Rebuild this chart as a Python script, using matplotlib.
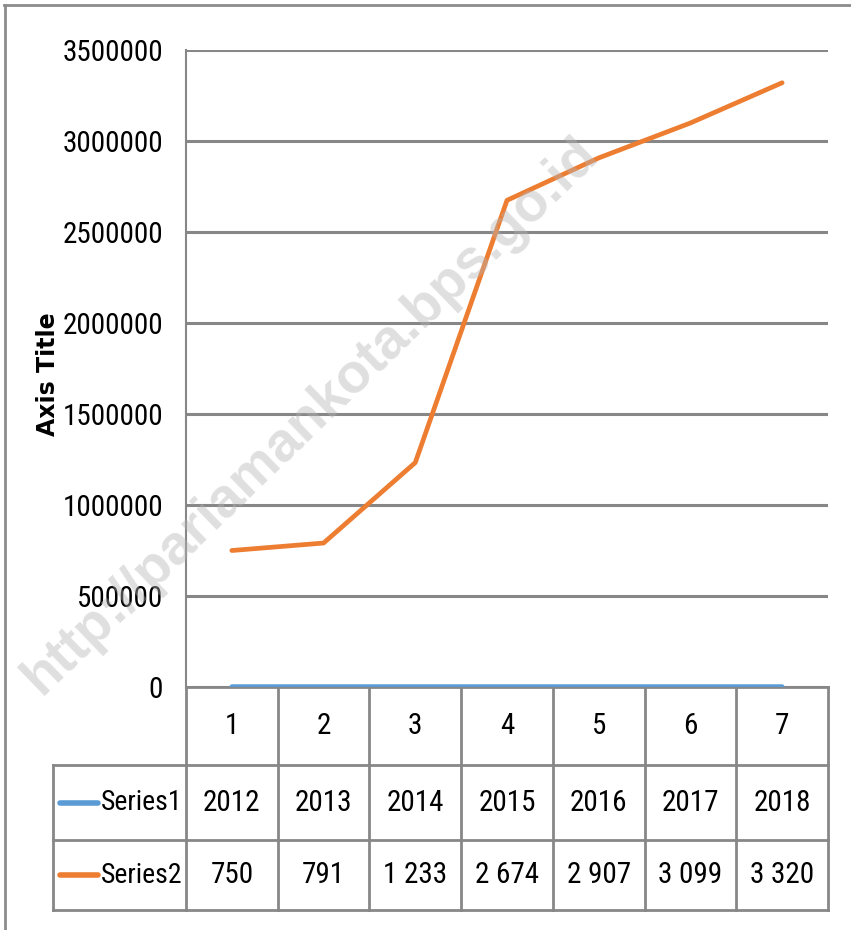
import matplotlib
matplotlib.use("Agg")
import matplotlib.pyplot as plt
from matplotlib import font_manager
from matplotlib.transforms import blended_transform_factory
from matplotlib.lines import Line2D

# ---------------- data ----------------
categories = ["1", "2", "3", "4", "5", "6", "7"]
series1 = [2012, 2013, 2014, 2015, 2016, 2017, 2018]
series2 = [750000, 791000, 1233000, 2674000, 2907000, 3099000, 3320000]
series1_labels = ["2012", "2013", "2014", "2015", "2016", "2017", "2018"]
series2_labels = ["750", "791", "1 233", "2 674", "2 907", "3 099", "3 320"]
series_names = ["Series1", "Series2"]
yticks = [0, 500000, 1000000, 1500000, 2000000, 2500000, 3000000, 3500000]
axis_title = "Axis Title"
watermark = "http://pariamankota.bps.go.id"

# ---------------- fonts ----------------
def pick(cands):
    for c in cands:
        try:
            font_manager.findfont(font_manager.FontProperties(family=c), fallback_to_default=False)
            return c
        except Exception:
            pass
    return "DejaVu Sans"

narrow = pick(["Liberation Sans Narrow", "Roboto Condensed", "Open Sans Condensed", "Liberation Sans"])
boldfam = pick(["DejaVu Sans"])
wmfam = pick(["Liberation Sans", "Arial", "DejaVu Sans"])

C_BLUE = "#5B9BD5"
C_ORANGE = "#ED7D31"
C_GRID = "#878787"
FS = 21

W, H = 851, 930
fig = plt.figure(figsize=(W / 100, H / 100), dpi=100)

# plot area in pixels
L, R, T, B = 186, 828, 50, 687
ax = fig.add_axes([L / W, (H - B) / H, (R - L) / W, (B - T) / H])
ax.set_xlim(0.5, len(categories) + 0.5)
ax.set_ylim(0, 3500000)
xs = list(range(1, len(categories) + 1))

ax.set_yticks(yticks)
ax.set_yticklabels([str(v) for v in yticks], fontsize=FS, family=narrow)
ax.tick_params(axis="y", length=0, pad=16.5)
ax.set_xticks([])
for s in ["top", "right", "bottom"]:
    ax.spines[s].set_visible(False)
ax.spines["left"].set_color(C_GRID)
ax.spines["left"].set_linewidth(1.5)
ax.grid(axis="y", color=C_GRID, linewidth=2.2)
ax.set_axisbelow(True)

ax.plot(xs, series1, color=C_BLUE, linewidth=3.4, solid_capstyle="round", zorder=3)
ax.plot(xs, series2, color=C_ORANGE, linewidth=3.4, solid_capstyle="round", zorder=3)

# axis title
fig.text(48 / W, 1 - 374 / H, axis_title, fontsize=17, fontweight="bold", family=boldfam,
         rotation=90, ha="center", va="center")

# ---------------- data table ----------------
tr = blended_transform_factory(ax.transData, ax.transAxes)
def ay(py):
    return (B - py) / (B - T)

y_r0, y_r1, y_r2 = ay(765), ay(840), ay(910)
colw = (R - L) / len(categories)
def dx(px):
    return 0.5 + (px - L) / colw
x_leg = dx(53)
x_right = len(categories) + 0.5
lkw = dict(color=C_GRID, linewidth=2.0, transform=tr, clip_on=False)

for yy, x0 in [(0.0, 0.5), (y_r0, x_leg), (y_r1, x_leg), (y_r2, x_leg)]:
    ax.add_line(Line2D([x0, x_right], [yy, yy], **lkw))
for k in range(len(categories) + 1):
    xv = 0.5 + k
    ax.add_line(Line2D([xv, xv], [0, y_r2], **lkw))
ax.add_line(Line2D([x_leg, x_leg], [y_r0, y_r2], **lkw))

tkw = dict(transform=tr, fontsize=FS, family=narrow, ha="center", va="center", clip_on=False)
for x, c in zip(xs, categories):
    ax.text(x, (0 + y_r0) / 2, c, **tkw)
for x, s in zip(xs, series1_labels):
    ax.text(x, (y_r0 + y_r1) / 2, s, **tkw)
for x, s in zip(xs, series2_labels):
    ax.text(x, (y_r1 + y_r2) / 2, s, **tkw)

for name, col, (ya, yb) in zip(series_names, [C_BLUE, C_ORANGE], [(y_r0, y_r1), (y_r1, y_r2)]):
    ym = (ya + yb) / 2
    ax.add_line(Line2D([dx(60), dx(98)], [ym, ym], color=col, linewidth=4,
                       solid_capstyle="round", transform=tr, clip_on=False))
    ax.text(dx(182), ym, name, transform=tr, fontsize=FS - 1, family=narrow,
            ha="right", va="center", clip_on=False)

# ---------------- outer frame ----------------
fig.add_artist(Line2D([4 / W, 1], [1 - 5 / H, 1 - 5 / H], color="#8c8c8c", linewidth=2,
                      transform=fig.transFigure))
fig.add_artist(Line2D([5 / W, 5 / W], [0, 1 - 5 / H], color="#8c8c8c", linewidth=2,
                      transform=fig.transFigure))

# ---------------- watermark ----------------
fig.text(310 / W, 1 - 416 / H, watermark, fontsize=40, fontweight="bold", family=wmfam,
         color="#b4b4b4", alpha=0.42, rotation=44, ha="center", va="center",
         rotation_mode="anchor", zorder=10)

fig.savefig("out.png", dpi=100)
